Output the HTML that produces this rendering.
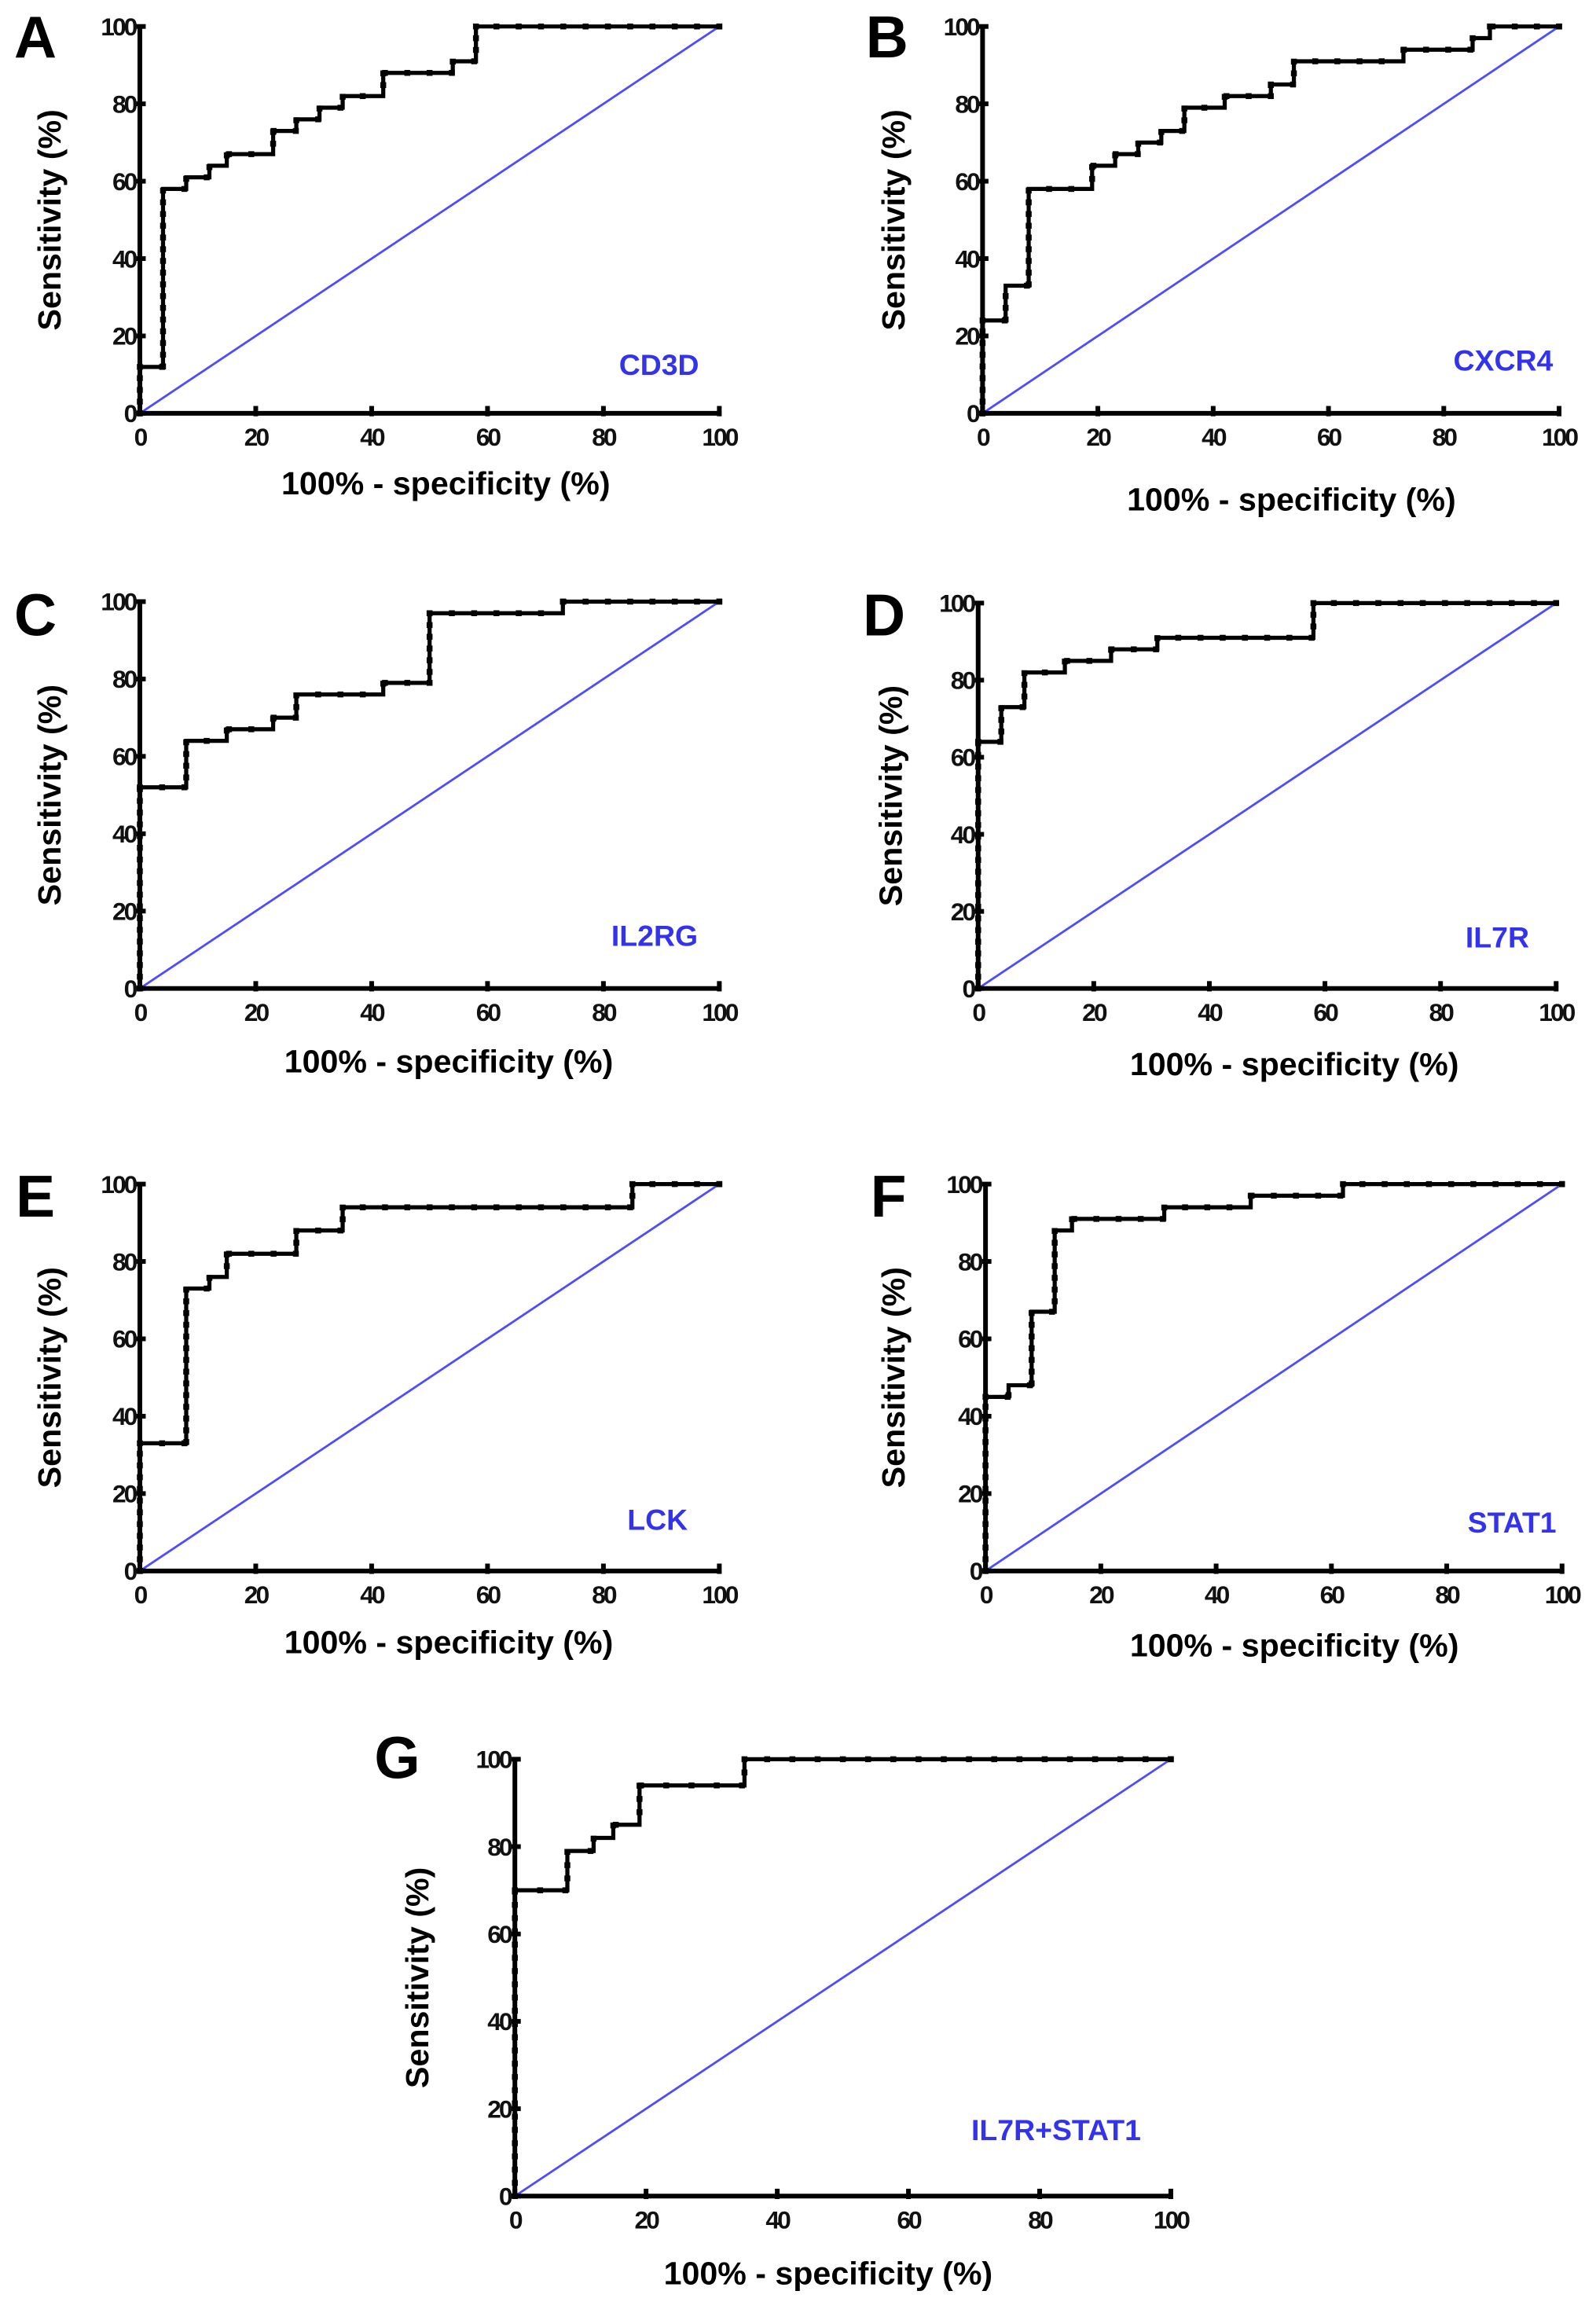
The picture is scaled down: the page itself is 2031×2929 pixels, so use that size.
<!DOCTYPE html>
<html><head><meta charset="utf-8"><style>
html,body{margin:0;padding:0;background:#fff}
svg{display:block}
text{font-family:"Liberation Sans",Arial,sans-serif}
</style></head><body>
<svg id="fig" width="2031" height="2929" viewBox="0 0 1085 1565" xmlns="http://www.w3.org/2000/svg"></svg>
<script>
// ROC data per panel (false positive rate %, true positive rate %)
const panelIds = ["A","B","C","D","E","F","G"];
const genes = ["CD3D","CXCR4","IL2RG","IL7R","LCK","STAT1","IL7R+STAT1"];
const fprA=[0,0,4,8,12,15,23,27,31,35,42,54,58,100];
const tprA=[0,12,58,61,64,67,73,76,79,82,88,91,100,100];
const fprB=[0,0,4,8,19,23,27,31,35,42,50,54,73,85,88,100];
const tprB=[0,24,33,58,64,67,70,73,79,82,85,91,94,97,100,100];
const fprC=[0,0,8,15,23,27,42,50,73,100];
const tprC=[0,52,64,67,70,76,79,97,100,100];
const fprD=[0,0,4,8,15,23,31,58,100];
const tprD=[0,64,73,82,85,88,91,100,100];
const fprE=[0,0,8,12,15,27,35,85,100];
const tprE=[0,33,73,76,82,88,94,100,100];
const fprF=[0,0,4,8,12,15,31,46,62,100];
const tprF=[0,45,48,67,88,91,94,97,100,100];
const fprG=[0,0,8,12,15,19,35,100];
const tprG=[0,70,79,82,85,94,100,100];
const tickLabels=["0","20","40","60","80","100"];
const tickValues=[0,20,40,60,80,100];

const FPR=[fprA,fprB,fprC,fprD,fprE,fprF,fprG];
const TPR=[tprA,tprB,tprC,tprD,tprE,tprF,tprG];
const layout=[
 {x0:95,x1:489,y0:281,y1:18,lx:24,ly:25,yt:33,xt:[303,328],gl:[448,248]},
 {x0:668,x1:1060,y0:281,y1:18,lx:603,ly:25,yt:607,xt:[878,339],gl:[1022,245]},
 {x0:95,x1:489,y0:672,y1:409,lx:24,ly:418,yt:33,xt:[305,721],gl:[445,636]},
 {x0:665,x1:1058,y0:672,y1:410,lx:601,ly:418,yt:605,xt:[880,723],gl:[1018,637]},
 {x0:95,x1:489,y0:1068,y1:805,lx:24,ly:813,yt:33,xt:[305,1116],gl:[447,1033]},
 {x0:670,x1:1062,y0:1068,y1:805,lx:604,ly:813,yt:607,xt:[880,1118],gl:[1028,1035]},
 {x0:350,x1:796,y0:1493,y1:1196,lx:270,ly:1195,yt:283,xt:[563,1545],gl:[718,1448]}
];
const NS="http://www.w3.org/2000/svg";
const svg=document.getElementById('fig');
function mk(tag,attrs,parent){const e=document.createElementNS(NS,tag);for(const k in attrs)e.setAttribute(k,attrs[k]);(parent||svg).appendChild(e);return e;}

for(let p=0;p<7;p++){
  const L=layout[p];
  const sx=v=>L.x0+(L.x1-L.x0)*v/100;
  const sy=v=>L.y0+(L.y1-L.y0)*v/100;
  const g=mk('g',{});
  
  
  const lt=mk('text',{x:L.lx,y:L.ly+14,'text-anchor':'middle','font-size':40,'font-weight':'bold'},g);
  lt.textContent=panelIds[p];
  
  
  const dg=mk('line',{x1:sx(0),y1:sy(0),x2:sx(100),y2:sy(100),stroke:'#4d4dff','stroke-width':1.5},g);
  
  
  const xs=FPR[p], ys=TPR[p];
  let d='M'+sx(xs[0])+','+sy(ys[0]);
  for(let i=1;i<xs.length;i++){d+=' L'+sx(xs[i])+','+sy(ys[i-1])+' L'+sx(xs[i])+','+sy(ys[i]);}
  const rc=mk('path',{d:d,fill:'none',stroke:'#000','stroke-width':2.8,'stroke-linejoin':'miter'},g);
  
  
  const mg=mk('g',{fill:'#000'},g);
  
  
  const stepX=100/26, stepY=100/33;
  for(let i=1;i<xs.length;i++){
    const yv=ys[i-1];
    for(let x=Math.ceil(xs[i-1]/stepX)*stepX;x<=xs[i]+0.01;x+=stepX){mk('rect',{x:sx(x)-2,y:sy(yv)-2,width:4,height:4},mg);}
    for(let y=Math.ceil(ys[i-1]/stepY)*stepY;y<=ys[i]+0.01;y+=stepY){mk('rect',{x:sx(xs[i])-2,y:sy(y)-2,width:4,height:4},mg);}
  }
  const ax=mk('g',{stroke:'#000','stroke-width':3.2},g);
  
  
  mk('line',{x1:sx(0),y1:sy(0),x2:sx(100)+1.5,y2:sy(0)},ax);
  mk('line',{x1:sx(0),y1:sy(0),x2:sx(0),y2:sy(100)},ax);
  for(let t=0;t<tickValues.length;t++){
    mk('line',{x1:sx(tickValues[t]),y1:sy(0)-5,x2:sx(tickValues[t]),y2:sy(0)+2},ax);
    mk('line',{x1:sx(0)-3,y1:sy(tickValues[t]),x2:sx(0)+4,y2:sy(tickValues[t])},ax);
    const xl=mk('text',{x:sx(tickValues[t]),y:sy(0)+22,'text-anchor':'middle','font-size':17,'font-weight':'bold','letter-spacing':-1.6,fill:'#111'},g);
    xl.textContent=tickLabels[t];
    
    
    const yl=mk('text',{x:sx(0)-3,y:sy(tickValues[t])+6,'text-anchor':'end','font-size':17,'font-weight':'bold','letter-spacing':-1.6,fill:'#111'},g);
    yl.textContent=tickLabels[t];
    
    
  }
  const cy=(L.y0+L.y1)/2;
  const yt=mk('text',{x:0,y:0,transform:'translate('+(L.yt+8)+','+cy+') rotate(-90)','text-anchor':'middle','font-size':22,'font-weight':'bold'},g);
  yt.textContent='Sensitivity (%)';
  
  
  const xt=mk('text',{x:L.xt[0],y:L.xt[1]+8,'text-anchor':'middle','font-size':22,'font-weight':'bold'},g);
  xt.textContent='100% - specificity (%)';
  
  
  const gl=mk('text',{x:L.gl[0],y:L.gl[1]+7,'text-anchor':'middle','font-size':20,'font-weight':'bold',fill:'#3333ee'},g);
  gl.textContent=genes[p];
  
  
}
</script>
</body></html>
